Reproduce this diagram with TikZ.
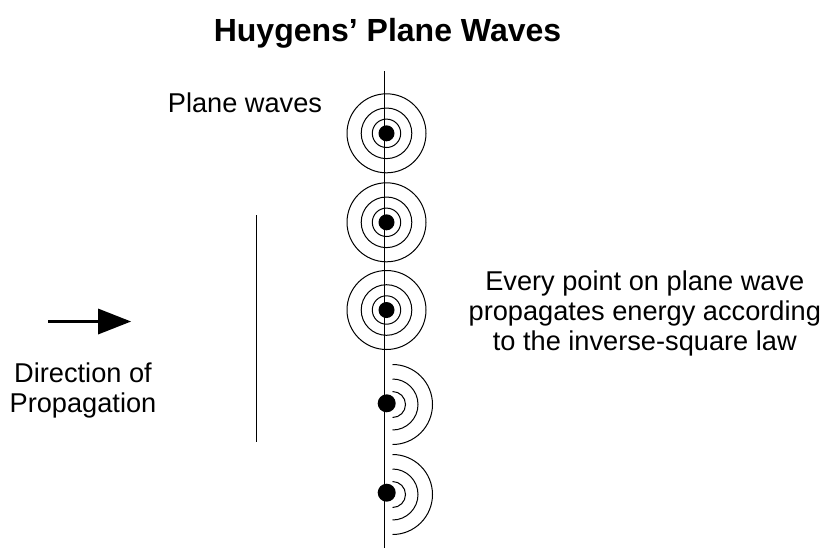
\documentclass[tikz,border=0pt]{standalone}
\usepackage{fontspec}
\setmainfont{Liberation Sans}
\begin{document}
\begin{tikzpicture}[x=1pt,y=-1pt,
  ring/.style={line width=1pt},
  wavefront/.style={line width=1.3pt},
  srcdot/.style={fill=black},
  lbl/.style={font=\fontsize{27.2}{30}\selectfont, inner sep=0pt, align=center},
  ttl/.style={font=\fontsize{32}{38}\selectfont\bfseries, inner sep=0pt}]
\useasboundingbox (0,0) rectangle (825,550);
% title
\node[ttl, anchor=base] (title) at (387.5,41.5) {Huygens’ Plane Waves};
% main wave front
\coordinate (wtop) at (384.3,71);
\coordinate (wbot) at (384.3,548);
\draw[wavefront] (wtop) -- (wbot);
% second (earlier) wave front
\coordinate (ltop) at (256.3,215);
\coordinate (lbot) at (256.3,441.5);
\draw[wavefront] (ltop) -- (lbot);
% full circle sources
\foreach \y [count=\i] in {133.3,222.3,310} {
  \coordinate (c\i) at (386.5,\y);
  \draw[ring] (c\i) circle (39.5);
  \draw[ring] (c\i) circle (25.3);
  \draw[ring] (c\i) circle (14.2);
  \fill[srcdot] (c\i) circle (8);
}
% half circle sources
\foreach \y/\ay [count=\i from 4] in {403.3/404.5,492.7/494.5} {
  \coordinate (c\i) at (386.7,\y);
  \coordinate (a\i) at (392.5,\ay);
  \draw[ring] (a\i) ++(0,-13) arc (-90:90:13);
  \draw[ring] (a\i) ++(0,-25.5) arc (-90:90:25.5);
  \draw[ring] (a\i) ++(0,-40) arc (-90:90:40);
  \fill[srcdot] (c\i) circle (9);
}
% direction arrow
\coordinate (arrS) at (48,321.5);
\coordinate (arrM) at (100,321.5);
\coordinate (arrE) at (131,321.5);
\draw[line width=2.6pt] (arrS) -- (arrM);
\fill (98,308.5) -- (arrE) -- (98,334.5) -- cycle;
% labels
\node[lbl, anchor=base] (plane) at (245,112.5) {Plane waves};
\node[lbl, anchor=north] (every) at (644.8,270.5) {Every point on plane wave\\propagates energy according\\to the inverse-square law};
\node[lbl, anchor=north] (dir) at (83,363) {Direction of\\Propagation};
\end{tikzpicture}
\end{document}
